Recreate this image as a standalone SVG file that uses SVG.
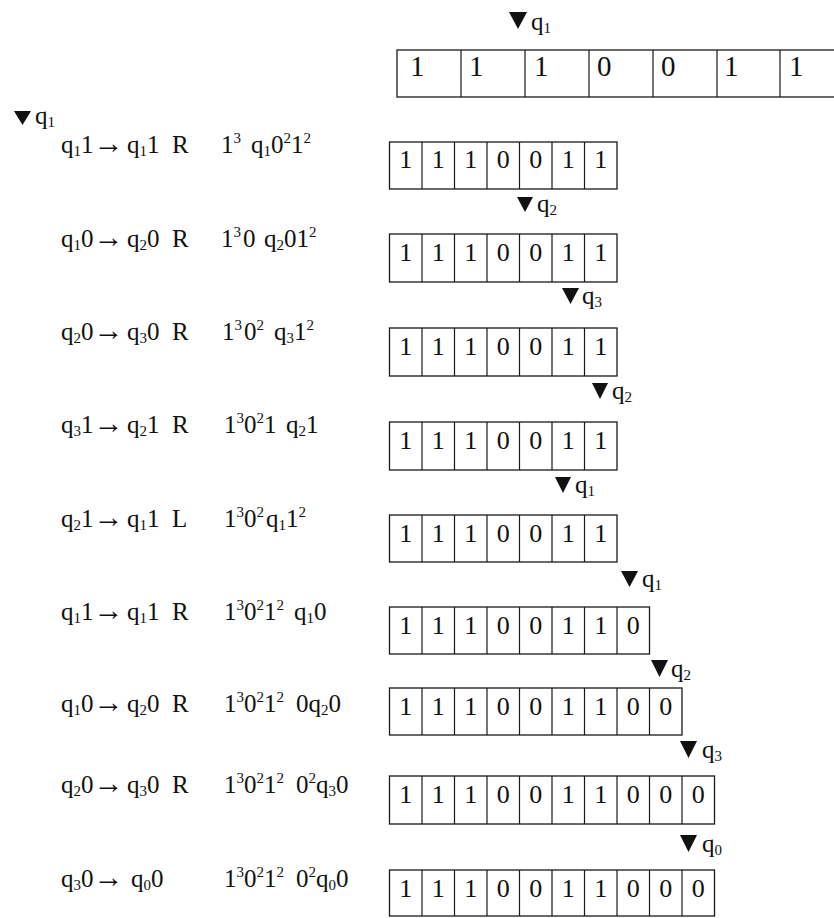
<svg xmlns="http://www.w3.org/2000/svg" width="834" height="918" viewBox="0 0 834 918">
<style>
.bg{fill:#fff}
.box{fill:none;stroke:#1a1a1a;stroke-width:1.3}
.dv{stroke:#1a1a1a;stroke-width:1.2;fill:none}
.dg{font-family:"Liberation Serif","Times New Roman",serif;font-size:26px;fill:#111;text-anchor:middle}
.dgb{font-family:"Liberation Serif","Times New Roman",serif;font-size:29px;fill:#111}
.t{font-family:"Liberation Serif","Times New Roman",serif;font-size:25px;fill:#111}
.h{font-family:"Liberation Serif","Times New Roman",serif;font-size:25px;fill:#111}
.s{font-size:15px}
.ar{font-size:30px}
.tri{fill:#111}
</style>
<rect class="bg" x="0" y="0" width="834" height="918"/>

<g id="tape-top">
<rect class="box" x="397" y="50" width="450" height="47"/>
<path class="dv" d="M461 50V97M525 50V97M589 50V97M653 50V97M717 50V97M780 50V97"/>
<text class="dgb" x="410" y="76">1</text>
<text class="dgb" x="469" y="76">1</text>
<text class="dgb" x="534" y="76">1</text>
<text class="dgb" x="597" y="76">0</text>
<text class="dgb" x="661" y="76">0</text>
<text class="dgb" x="724" y="76">1</text>
<text class="dgb" x="789" y="76">1</text>
</g>

<g id="head-top">
<polygon class="tri" points="509,12 527,12 518,29"/>
<text class="h" x="531" y="30">q<tspan class="s" baseline-shift="-3">1</tspan></text>
</g>

<g id="head-left">
<polygon class="tri" points="14,111 31,111 22.5,125"/>
<text class="h" x="35" y="124">q<tspan class="s" baseline-shift="-3">1</tspan></text>
</g>

<g id="tape-1">
<rect class="box" x="389.5" y="142" width="227.5" height="47"/>
<path class="dv" d="M422 142v47M454.5 142v47M487 142v47M519.5 142v47M552 142v47M584.5 142v47"/>
<text class="dg" y="168"><tspan x="405.75">1</tspan><tspan x="438.25">1</tspan><tspan x="470.75">1</tspan><tspan x="503.25">0</tspan><tspan x="535.75">0</tspan><tspan x="568.25">1</tspan><tspan x="600.75">1</tspan></text>
</g>

<g id="head-2">
<polygon class="tri" points="517,197 533,197 525,212"/>
<text class="h" x="537" y="212">q<tspan class="s" baseline-shift="-3">2</tspan></text>
</g>

<g id="tape-2">
<rect class="box" x="389.5" y="234" width="227.5" height="48"/>
<path class="dv" d="M422 234v48M454.5 234v48M487 234v48M519.5 234v48M552 234v48M584.5 234v48"/>
<text class="dg" y="261"><tspan x="405.75">1</tspan><tspan x="438.25">1</tspan><tspan x="470.75">1</tspan><tspan x="503.25">0</tspan><tspan x="535.75">0</tspan><tspan x="568.25">1</tspan><tspan x="600.75">1</tspan></text>
</g>

<g id="head-3">
<polygon class="tri" points="562,288 579,288 570.5,304"/>
<text class="h" x="582" y="304">q<tspan class="s" baseline-shift="-3">3</tspan></text>
</g>

<g id="tape-3">
<rect class="box" x="389.5" y="328" width="227.5" height="48"/>
<path class="dv" d="M422 328v48M454.5 328v48M487 328v48M519.5 328v48M552 328v48M584.5 328v48"/>
<text class="dg" y="355"><tspan x="405.75">1</tspan><tspan x="438.25">1</tspan><tspan x="470.75">1</tspan><tspan x="503.25">0</tspan><tspan x="535.75">0</tspan><tspan x="568.25">1</tspan><tspan x="600.75">1</tspan></text>
</g>

<g id="head-4">
<polygon class="tri" points="592,383 608,383 600,399"/>
<text class="h" x="612" y="399">q<tspan class="s" baseline-shift="-3">2</tspan></text>
</g>

<g id="tape-4">
<rect class="box" x="389.5" y="422" width="227.5" height="48"/>
<path class="dv" d="M422 422v48M454.5 422v48M487 422v48M519.5 422v48M552 422v48M584.5 422v48"/>
<text class="dg" y="449"><tspan x="405.75">1</tspan><tspan x="438.25">1</tspan><tspan x="470.75">1</tspan><tspan x="503.25">0</tspan><tspan x="535.75">0</tspan><tspan x="568.25">1</tspan><tspan x="600.75">1</tspan></text>
</g>

<g id="head-5">
<polygon class="tri" points="555,477 571,477 563,493"/>
<text class="h" x="575" y="493">q<tspan class="s" baseline-shift="-3">1</tspan></text>
</g>

<g id="tape-5">
<rect class="box" x="389.5" y="515" width="227.5" height="47"/>
<path class="dv" d="M422 515v47M454.5 515v47M487 515v47M519.5 515v47M552 515v47M584.5 515v47"/>
<text class="dg" y="542"><tspan x="405.75">1</tspan><tspan x="438.25">1</tspan><tspan x="470.75">1</tspan><tspan x="503.25">0</tspan><tspan x="535.75">0</tspan><tspan x="568.25">1</tspan><tspan x="600.75">1</tspan></text>
</g>

<g id="head-6">
<polygon class="tri" points="621,571 638,571 629.5,587"/>
<text class="h" x="642" y="587">q<tspan class="s" baseline-shift="-3">1</tspan></text>
</g>

<g id="tape-6">
<rect class="box" x="389.5" y="607" width="260" height="47"/>
<path class="dv" d="M422 607v47M454.5 607v47M487 607v47M519.5 607v47M552 607v47M584.5 607v47M617 607v47"/>
<text class="dg" y="634"><tspan x="405.75">1</tspan><tspan x="438.25">1</tspan><tspan x="470.75">1</tspan><tspan x="503.25">0</tspan><tspan x="535.75">0</tspan><tspan x="568.25">1</tspan><tspan x="600.75">1</tspan><tspan x="633.25">0</tspan></text>
</g>

<g id="head-7">
<polygon class="tri" points="651,660 668,660 659.5,677"/>
<text class="h" x="671" y="677">q<tspan class="s" baseline-shift="-3">2</tspan></text>
</g>

<g id="tape-7">
<rect class="box" x="389.5" y="688" width="292.5" height="47"/>
<path class="dv" d="M422 688v47M454.5 688v47M487 688v47M519.5 688v47M552 688v47M584.5 688v47M617 688v47M649.5 688v47"/>
<text class="dg" y="715"><tspan x="405.75">1</tspan><tspan x="438.25">1</tspan><tspan x="470.75">1</tspan><tspan x="503.25">0</tspan><tspan x="535.75">0</tspan><tspan x="568.25">1</tspan><tspan x="600.75">1</tspan><tspan x="633.25">0</tspan><tspan x="665.75">0</tspan></text>
</g>

<g id="head-8">
<polygon class="tri" points="680,741 697,741 688.5,758"/>
<text class="h" x="702" y="758">q<tspan class="s" baseline-shift="-3">3</tspan></text>
</g>

<g id="tape-8">
<rect class="box" x="389.5" y="776" width="325" height="48"/>
<path class="dv" d="M422 776v48M454.5 776v48M487 776v48M519.5 776v48M552 776v48M584.5 776v48M617 776v48M649.5 776v48M682 776v48"/>
<text class="dg" y="803"><tspan x="405.75">1</tspan><tspan x="438.25">1</tspan><tspan x="470.75">1</tspan><tspan x="503.25">0</tspan><tspan x="535.75">0</tspan><tspan x="568.25">1</tspan><tspan x="600.75">1</tspan><tspan x="633.25">0</tspan><tspan x="665.75">0</tspan><tspan x="698.25">0</tspan></text>
</g>

<g id="head-9">
<polygon class="tri" points="680,835 697,835 688.5,852"/>
<text class="h" x="702" y="852">q<tspan class="s" baseline-shift="-3">0</tspan></text>
</g>

<g id="tape-9">
<rect class="box" x="389.5" y="870" width="325" height="46"/>
<path class="dv" d="M422 870v46M454.5 870v46M487 870v46M519.5 870v46M552 870v46M584.5 870v46M617 870v46M649.5 870v46M682 870v46"/>
<text class="dg" y="897"><tspan x="405.75">1</tspan><tspan x="438.25">1</tspan><tspan x="470.75">1</tspan><tspan x="503.25">0</tspan><tspan x="535.75">0</tspan><tspan x="568.25">1</tspan><tspan x="600.75">1</tspan><tspan x="633.25">0</tspan><tspan x="665.75">0</tspan><tspan x="698.25">0</tspan></text>
</g>

<g id="row-1">
<text class="t" y="153"><tspan x="61">q</tspan><tspan class="s" baseline-shift="-3">1</tspan><tspan>1</tspan><tspan class="ar">→</tspan><tspan x="127">q</tspan><tspan class="s" baseline-shift="-3">1</tspan><tspan>1</tspan><tspan x="172">R</tspan></text>
<text class="t" y="153"><tspan x="221">1</tspan><tspan class="s" baseline-shift="10">3</tspan><tspan x="251">q</tspan><tspan class="s" baseline-shift="-3">1</tspan><tspan>0</tspan><tspan class="s" baseline-shift="10">2</tspan><tspan>1</tspan><tspan class="s" baseline-shift="10">2</tspan></text>
</g>

<g id="row-2">
<text class="t" y="247"><tspan x="61">q</tspan><tspan class="s" baseline-shift="-3">1</tspan><tspan>0</tspan><tspan class="ar">→</tspan><tspan x="127">q</tspan><tspan class="s" baseline-shift="-3">2</tspan><tspan>0</tspan><tspan x="172">R</tspan></text>
<text class="t" y="247"><tspan x="221">1</tspan><tspan class="s" baseline-shift="10">3</tspan><tspan x="243">0</tspan><tspan x="264">q</tspan><tspan class="s" baseline-shift="-3">2</tspan><tspan>01</tspan><tspan class="s" baseline-shift="10">2</tspan></text>
</g>

<g id="row-3">
<text class="t" y="340"><tspan x="61">q</tspan><tspan class="s" baseline-shift="-3">2</tspan><tspan>0</tspan><tspan class="ar">→</tspan><tspan x="127">q</tspan><tspan class="s" baseline-shift="-3">3</tspan><tspan>0</tspan><tspan x="172">R</tspan></text>
<text class="t" y="340"><tspan x="222">1</tspan><tspan class="s" baseline-shift="10">3</tspan><tspan x="244">0</tspan><tspan class="s" baseline-shift="10">2</tspan><tspan x="274">q</tspan><tspan class="s" baseline-shift="-3">3</tspan><tspan>1</tspan><tspan class="s" baseline-shift="10">2</tspan></text>
</g>

<g id="row-4">
<text class="t" y="433"><tspan x="61">q</tspan><tspan class="s" baseline-shift="-3">3</tspan><tspan>1</tspan><tspan class="ar">→</tspan><tspan x="127">q</tspan><tspan class="s" baseline-shift="-3">2</tspan><tspan>1</tspan><tspan x="172">R</tspan></text>
<text class="t" y="433"><tspan x="224">1</tspan><tspan class="s" baseline-shift="10">3</tspan><tspan x="244">0</tspan><tspan class="s" baseline-shift="10">2</tspan><tspan>1</tspan><tspan x="286">q</tspan><tspan class="s" baseline-shift="-3">2</tspan><tspan>1</tspan></text>
</g>

<g id="row-5">
<text class="t" y="527"><tspan x="61">q</tspan><tspan class="s" baseline-shift="-3">2</tspan><tspan>1</tspan><tspan class="ar">→</tspan><tspan x="127">q</tspan><tspan class="s" baseline-shift="-3">1</tspan><tspan>1</tspan><tspan x="172">L</tspan></text>
<text class="t" y="527"><tspan x="224">1</tspan><tspan class="s" baseline-shift="10">3</tspan><tspan x="244">0</tspan><tspan class="s" baseline-shift="10">2</tspan><tspan x="266">q</tspan><tspan class="s" baseline-shift="-3">1</tspan><tspan>1</tspan><tspan class="s" baseline-shift="10">2</tspan></text>
</g>

<g id="row-6">
<text class="t" y="620"><tspan x="61">q</tspan><tspan class="s" baseline-shift="-3">1</tspan><tspan>1</tspan><tspan class="ar">→</tspan><tspan x="127">q</tspan><tspan class="s" baseline-shift="-3">1</tspan><tspan>1</tspan><tspan x="172">R</tspan></text>
<text class="t" y="620"><tspan x="224">1</tspan><tspan class="s" baseline-shift="10">3</tspan><tspan x="244">0</tspan><tspan class="s" baseline-shift="10">2</tspan><tspan>1</tspan><tspan class="s" baseline-shift="10">2</tspan><tspan x="294">q</tspan><tspan class="s" baseline-shift="-3">1</tspan><tspan>0</tspan></text>
</g>

<g id="row-7">
<text class="t" y="712"><tspan x="61">q</tspan><tspan class="s" baseline-shift="-3">1</tspan><tspan>0</tspan><tspan class="ar">→</tspan><tspan x="127">q</tspan><tspan class="s" baseline-shift="-3">2</tspan><tspan>0</tspan><tspan x="172">R</tspan></text>
<text class="t" y="712"><tspan x="224">1</tspan><tspan class="s" baseline-shift="10">3</tspan><tspan x="244">0</tspan><tspan class="s" baseline-shift="10">2</tspan><tspan>1</tspan><tspan class="s" baseline-shift="10">2</tspan><tspan x="296">0q</tspan><tspan class="s" baseline-shift="-3">2</tspan><tspan>0</tspan></text>
</g>

<g id="row-8">
<text class="t" y="793"><tspan x="61">q</tspan><tspan class="s" baseline-shift="-3">2</tspan><tspan>0</tspan><tspan class="ar">→</tspan><tspan x="127">q</tspan><tspan class="s" baseline-shift="-3">3</tspan><tspan>0</tspan><tspan x="172">R</tspan></text>
<text class="t" y="793"><tspan x="224">1</tspan><tspan class="s" baseline-shift="10">3</tspan><tspan x="244">0</tspan><tspan class="s" baseline-shift="10">2</tspan><tspan>1</tspan><tspan class="s" baseline-shift="10">2</tspan><tspan x="296">0</tspan><tspan class="s" baseline-shift="10">2</tspan><tspan>q</tspan><tspan class="s" baseline-shift="-3">3</tspan><tspan>0</tspan></text>
</g>

<g id="row-9">
<text class="t" y="887"><tspan x="61">q</tspan><tspan class="s" baseline-shift="-3">3</tspan><tspan>0</tspan><tspan class="ar">→</tspan><tspan x="131">q</tspan><tspan class="s" baseline-shift="-3">0</tspan><tspan>0</tspan></text>
<text class="t" y="887"><tspan x="224">1</tspan><tspan class="s" baseline-shift="10">3</tspan><tspan x="244">0</tspan><tspan class="s" baseline-shift="10">2</tspan><tspan>1</tspan><tspan class="s" baseline-shift="10">2</tspan><tspan x="296">0</tspan><tspan class="s" baseline-shift="10">2</tspan><tspan>q</tspan><tspan class="s" baseline-shift="-3">0</tspan><tspan>0</tspan></text>
</g>

<g id="connectors"></g>
</svg>
